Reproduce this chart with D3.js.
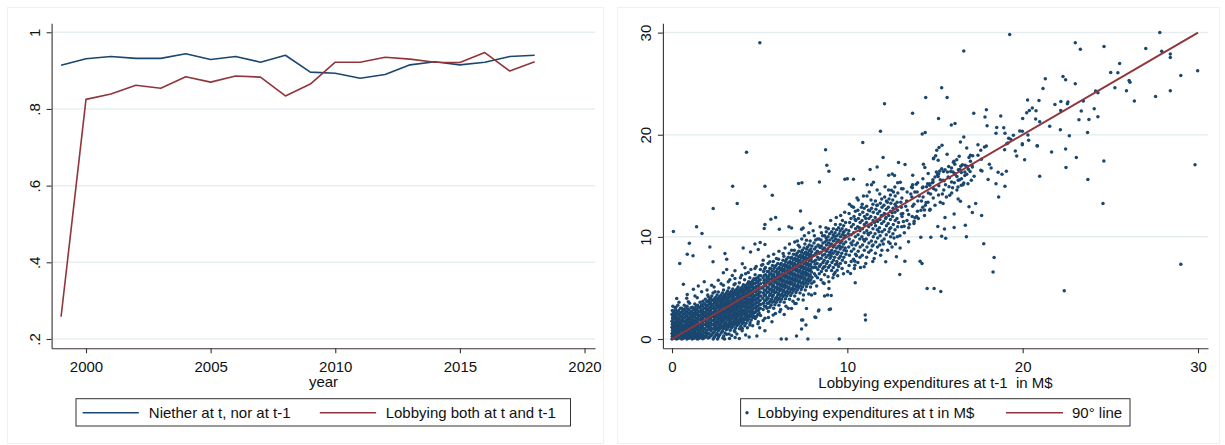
<!DOCTYPE html>
<html><head><meta charset="utf-8">
<script src="https://cdn.jsdelivr.net/npm/d3@7"></script>
<style>
body{margin:0;background:#fff}
svg{display:block}
text{font-family:"Liberation Sans",Arial,sans-serif;fill:#111}
</style>
</head><body>
<svg id="chart" width="1225" height="445"></svg>
<script>
// ---------- data ----------
const years = [1999,2000,2001,2002,2003,2004,2005,2006,2007,2008,2009,2010,2011,2012,2013,2014,2015,2016,2017,2018];
const neitherShare = [0.914,0.931,0.937,0.932,0.932,0.944,0.929,0.937,0.922,0.940,0.896,0.893,0.880,0.890,0.915,0.923,0.915,0.922,0.937,0.940];
const bothShare = [0.258,0.825,0.839,0.862,0.854,0.884,0.870,0.886,0.883,0.834,0.865,0.922,0.922,0.935,0.930,0.922,0.921,0.947,0.899,0.923];
const leftYTicks = [0.2,0.4,0.6,0.8,1];
const leftYLabels = [".2",".4",".6",".8","1"];
const leftXTicks = [2000,2005,2010,2015,2020];
const rightTicks = [0,10,20,30];
const lineLegend = ["Niether at t, nor at t-1","Lobbying both at t and t-1"];
const scatterLegend = ["Lobbying expenditures at t in M$","90\u00b0 line"];
const leftXTitle = "year";
const rightXTitle = "Lobbying expenditures at t-1  in M$";
const refLine = [[0,0],[30,30]];
// [expenditure at t-1, expenditure at t] in M$ : main cloud and outliers
const spendPairs = [
[0,0],[0.02,0.28],[0,0.55],[0.03,0.85],[0,1.15],[0.02,1.45],[0,1.75],[0.03,2.05],[0,2.4],[0.02,2.8],[0.05,3.2],
[0.12,0.08],[0.1,0.42],[0.15,0.72],[0.11,1.02],[0.14,1.32],[0.1,1.62],[0.16,1.95],[0.12,2.3],[0.1,2.65],
[0.26,0],[0.24,0.3],[0.28,0.62],[0.25,0.92],[0.27,1.22],[0.23,1.52],[0.28,1.85],[0.25,2.2],[0.27,2.6],[0.22,3.1],
[0.4,0.1],[0.42,0.4],[0.38,0.7],[0.41,1.0],[0.39,1.32],[0.43,1.62],[0.4,1.98],[0.42,2.38],[0.38,2.8],[0.4,3.6],
[0.55,0],[0.53,0.32],[0.57,0.6],[0.54,0.92],[0.56,1.2],[0.52,1.5],[0.57,1.82],[0.55,2.2],[0.53,2.62],[0.56,3.0],
[0.7,0.12],[0.72,0.42],[0.68,0.7],[0.71,1.02],[0.69,1.3],[0.73,1.68],[0.7,2.08],[0.72,2.5],[0.68,2.9],[0.7,3.3],
[0.85,0],[0.84,0.3],[0.87,0.6],[0.83,0.9],[0.86,1.22],[0.84,1.52],[0.88,1.9],[0.85,2.3],[0.83,2.72],[0.86,3.2],[0.84,4.0],
[1.0,0.1],[1.02,0.4],[0.98,0.7],[1.01,1.0],[0.99,1.32],[1.03,1.62],[1.0,2.0],[1.02,2.42],[0.98,2.82],[1.0,3.5],
[1.15,0],[1.13,0.3],[1.17,0.6],[1.14,0.92],[1.16,1.22],[1.12,1.52],[1.17,1.9],[1.15,2.3],[1.13,2.7],[1.16,3.1],
[1.3,0.1],[1.32,0.4],[1.28,0.72],[1.31,1.02],[1.29,1.4],[1.33,1.8],[1.3,2.2],[1.32,2.6],[1.28,3.0],[1.3,3.42],[1.31,4.2],
[1.45,0],[1.44,0.32],[1.47,0.62],[1.43,1.0],[1.46,1.3],[1.44,1.7],[1.48,2.1],[1.45,2.5],[1.43,2.9],[1.46,3.3],
[1.6,0.12],[1.62,0.5],[1.58,0.8],[1.61,1.12],[1.59,1.5],[1.63,1.9],[1.6,2.3],[1.62,2.7],[1.58,3.1],[1.6,3.6],
[1.75,0.02],[1.74,0.4],[1.77,0.8],[1.73,1.2],[1.76,1.6],[1.74,2.0],[1.78,2.4],[1.75,2.8],[1.73,3.2],[1.76,3.7],
[1.9,0.2],[1.92,0.6],[1.88,1.0],[1.91,1.4],[1.89,1.8],[1.93,2.2],[1.9,2.6],[1.92,3.0],[1.88,3.4],[1.9,3.9],
[2.05,0.1],[2.04,0.5],[2.07,0.9],[2.03,1.3],[2.06,1.7],[2.04,2.1],[2.08,2.5],[2.05,2.9],[2.03,3.3],[2.06,3.7],[2.04,4.3],
[2.2,0.3],[2.22,0.8],[2.18,1.2],[2.21,1.6],[2.19,2.0],[2.23,2.4],[2.2,2.8],[2.22,3.2],[2.18,3.6],[2.2,4.0],
[2.35,0],[2.34,0.6],[2.37,1.0],[2.33,1.4],[2.36,1.8],[2.34,2.2],[2.38,2.6],[2.35,3.0],[2.33,3.4],[2.36,3.8],[2.34,4.5],
[2.5,0.4],[2.52,0.9],[2.48,1.3],[2.51,1.7],[2.49,2.1],[2.53,2.5],[2.5,2.9],[2.52,3.3],[2.48,3.7],[2.5,4.1],
[2.65,0.2],[2.64,0.8],[2.67,1.2],[2.63,1.6],[2.66,2.0],[2.64,2.4],[2.68,2.8],[2.65,3.2],[2.63,3.6],[2.66,4.0],[2.64,4.6],
[2.8,0.6],[2.82,1.1],[2.78,1.5],[2.81,1.9],[2.79,2.3],[2.83,2.7],[2.8,3.1],[2.82,3.5],[2.78,3.9],[2.8,4.3],
[2.95,0.3],[2.94,1.0],[2.97,1.4],[2.93,1.8],[2.96,2.2],[2.94,2.6],[2.98,3.0],[2.95,3.4],[2.93,3.8],[2.96,4.2],[2.94,4.8],
[3.1,0.9],[3.12,1.3],[3.08,1.7],[3.11,2.1],[3.09,2.5],[3.13,2.9],[3.1,3.3],[3.12,3.7],[3.08,4.1],[3.1,4.5],
[3.25,0.5],[3.24,1.2],[3.27,1.6],[3.23,2.0],[3.26,2.4],[3.24,2.8],[3.28,3.2],[3.25,3.6],[3.23,4.0],[3.26,4.4],[3.24,5.0],
[3.4,1.1],[3.42,1.5],[3.38,1.9],[3.41,2.3],[3.39,2.7],[3.43,3.1],[3.4,3.5],[3.42,3.9],[3.38,4.3],[3.4,4.7],
[3.55,0.8],[3.54,1.4],[3.57,1.8],[3.53,2.2],[3.56,2.6],[3.54,3.0],[3.58,3.4],[3.55,3.8],[3.53,4.2],[3.56,4.6],[3.54,5.3],
[3.7,1.3],[3.72,1.7],[3.68,2.1],[3.71,2.5],[3.69,2.9],[3.73,3.3],[3.7,3.7],[3.72,4.1],[3.68,4.5],[3.7,4.9],
[3.85,1.0],[3.84,1.6],[3.87,2.0],[3.83,2.4],[3.86,2.8],[3.84,3.2],[3.88,3.6],[3.85,4.0],[3.83,4.4],[3.86,4.8],[3.84,5.5],
[4.0,1.5],[4.02,1.9],[3.98,2.3],[4.01,2.7],[3.99,3.1],[4.03,3.5],[4.0,3.9],[4.02,4.3],[3.98,4.7],[4.0,5.1],
[4.15,1.3],[4.14,1.9],[4.17,2.3],[4.13,2.7],[4.16,3.1],[4.14,3.5],[4.18,3.9],[4.15,4.3],[4.13,4.7],[4.16,5.1],[4.14,5.8],
[4.3,1.8],[4.32,2.2],[4.28,2.6],[4.31,3.0],[4.29,3.4],[4.33,3.8],[4.3,4.2],[4.32,4.6],[4.28,5.0],[4.3,5.4],
[4.45,1.6],[4.44,2.2],[4.47,2.6],[4.43,3.0],[4.46,3.4],[4.44,3.8],[4.48,4.2],[4.45,4.6],[4.43,5.0],[4.46,5.4],[4.44,6.0],
[4.6,2.1],[4.62,2.5],[4.58,2.9],[4.61,3.3],[4.59,3.7],[4.63,4.1],[4.6,4.5],[4.62,4.9],[4.58,5.3],[4.6,5.7],
[4.75,2.0],[4.74,2.6],[4.77,3.0],[4.73,3.4],[4.76,3.8],[4.74,4.2],[4.78,4.6],[4.75,5.0],[4.73,5.4],[4.76,5.8],[4.74,6.3],
[4.9,2.4],[4.92,2.8],[4.88,3.2],[4.91,3.6],[4.89,4.0],[4.93,4.4],[4.9,4.8],[4.92,5.2],[4.88,5.6],[4.9,6.0],
[5.05,2.3],[5.04,3.0],[5.07,3.4],[5.03,3.8],[5.06,4.2],[5.04,4.6],[5.08,5.0],[5.05,5.4],[5.03,5.8],[5.06,6.2],[5.04,6.8],
[5.2,2.9],[5.22,3.5],[5.18,4.0],[5.21,4.5],[5.19,5.0],[5.23,5.5],[5.2,6.0],[5.22,6.6],[5.18,7.3],
[5.35,3.2],[5.37,3.8],[5.33,4.3],[5.36,4.8],[5.34,5.3],[5.38,5.8],[5.35,6.3],[5.33,7.0],
[5.5,2.7],[5.52,3.5],[5.48,4.0],[5.51,4.6],[5.49,5.1],[5.53,5.6],[5.5,6.1],[5.52,6.6],[5.48,7.4],
[5.65,3.3],[5.67,3.9],[5.63,4.4],[5.66,4.9],[5.64,5.4],[5.68,5.9],[5.65,6.4],[5.63,6.9],
[5.8,3.0],[5.82,3.7],[5.78,4.3],[5.81,4.8],[5.79,5.3],[5.83,5.8],[5.8,6.3],[5.82,6.9],[5.78,7.6],
[5.95,3.6],[5.97,4.1],[5.93,4.6],[5.96,5.1],[5.94,5.6],[5.98,6.1],[5.95,6.6],[5.93,7.2],
[6.1,3.3],[6.12,4.0],[6.08,4.5],[6.11,5.0],[6.09,5.5],[6.13,6.0],[6.1,6.5],[6.12,7.0],[6.08,7.8],
[6.25,3.9],[6.27,4.4],[6.23,4.9],[6.26,5.4],[6.24,5.9],[6.28,6.4],[6.25,6.9],[6.23,7.4],
[6.4,3.6],[6.42,4.3],[6.38,4.8],[6.41,5.3],[6.39,5.8],[6.43,6.3],[6.4,6.8],[6.42,7.3],[6.38,8.1],
[6.55,4.2],[6.57,4.7],[6.53,5.2],[6.56,5.7],[6.54,6.2],[6.58,6.7],[6.55,7.2],[6.53,7.8],
[6.7,3.9],[6.72,4.6],[6.68,5.1],[6.71,5.6],[6.69,6.1],[6.73,6.6],[6.7,7.1],[6.72,7.6],[6.68,8.4],
[6.85,4.5],[6.87,5.0],[6.83,5.5],[6.86,6.0],[6.84,6.5],[6.88,7.0],[6.85,7.5],[6.83,8.0],
[7.0,4.2],[7.02,4.9],[6.98,5.4],[7.01,5.9],[6.99,6.4],[7.03,6.9],[7.0,7.4],[7.02,7.9],[6.98,8.7],
[7.15,4.8],[7.17,5.3],[7.13,5.8],[7.16,6.3],[7.14,6.8],[7.18,7.3],[7.15,7.8],[7.13,8.4],
[7.3,4.5],[7.32,5.2],[7.28,5.7],[7.31,6.2],[7.29,6.7],[7.33,7.2],[7.3,7.7],[7.32,8.2],[7.28,9.0],
[7.45,5.1],[7.47,5.6],[7.43,6.1],[7.46,6.6],[7.44,7.1],[7.48,7.6],[7.45,8.1],[7.43,8.7],
[7.6,4.8],[7.62,5.5],[7.58,6.0],[7.61,6.5],[7.59,7.0],[7.63,7.5],[7.6,8.0],[7.62,8.5],[7.58,9.3],
[7.75,5.4],[7.77,5.9],[7.73,6.4],[7.76,6.9],[7.74,7.4],[7.78,7.9],[7.75,8.4],[7.73,9.0],
[7.9,5.1],[7.92,5.8],[7.88,6.3],[7.91,6.8],[7.89,7.3],[7.93,7.8],[7.9,8.3],[7.92,8.8],[7.88,9.6],
[8.1,5.6],[8.12,6.4],[8.08,7.0],[8.11,7.6],[8.09,8.2],[8.13,8.8],[8.1,9.4],[8.12,10.1],
[8.3,6.0],[8.32,6.8],[8.28,7.4],[8.31,8.0],[8.29,8.6],[8.33,9.2],[8.3,9.8],
[8.5,5.8],[8.52,6.6],[8.48,7.3],[8.51,7.9],[8.49,8.5],[8.53,9.1],[8.5,9.7],[8.52,10.4],
[8.7,6.3],[8.72,7.1],[8.68,7.7],[8.71,8.3],[8.69,8.9],[8.73,9.5],[8.7,10.1],
[8.9,6.1],[8.92,7.0],[8.88,7.6],[8.91,8.2],[8.89,8.8],[8.93,9.4],[8.9,10.0],[8.92,10.8],
[9.1,6.7],[9.12,7.5],[9.08,8.1],[9.11,8.7],[9.09,9.3],[9.13,9.9],[9.1,10.5],
[9.3,6.5],[9.32,7.3],[9.28,8.0],[9.31,8.6],[9.29,9.2],[9.33,9.8],[9.3,10.4],[9.32,11.2],
[9.5,7.1],[9.52,7.9],[9.48,8.5],[9.51,9.1],[9.49,9.7],[9.53,10.3],[9.5,10.9],
[9.7,6.9],[9.72,7.7],[9.68,8.4],[9.71,9.0],[9.69,9.6],[9.73,10.2],[9.7,10.8],[9.72,11.6],
[9.9,7.5],[9.92,8.3],[9.88,8.9],[9.91,9.5],[9.89,10.1],[9.93,10.7],[9.9,11.4],
[10.1,7.2],[10.12,8.2],[10.08,9.0],[10.11,9.8],[10.09,10.6],[10.13,11.4],[10.1,12.3],[10.12,13.2],
[10.35,7.8],[10.37,8.8],[10.33,9.6],[10.36,10.4],[10.34,11.2],[10.38,12.0],[10.35,12.9],
[10.6,7.5],[10.62,8.6],[10.58,9.4],[10.61,10.2],[10.59,11.0],[10.63,11.8],[10.6,12.6],[10.62,13.6],
[10.85,8.2],[10.87,9.2],[10.83,10.0],[10.86,10.8],[10.84,11.6],[10.88,12.4],[10.85,13.2],
[11.1,8.0],[11.12,9.0],[11.08,9.8],[11.11,10.6],[11.09,11.4],[11.13,12.2],[11.1,13.0],[11.12,14.0],
[11.35,8.7],[11.37,9.6],[11.33,10.4],[11.36,11.2],[11.34,12.0],[11.38,12.8],[11.35,13.6],
[11.6,8.4],[11.62,9.5],[11.58,10.3],[11.61,11.1],[11.59,11.9],[11.63,12.7],[11.6,13.5],
[11.85,9.2],[11.87,10.1],[11.83,10.9],[11.86,11.7],[11.84,12.5],[11.88,13.3],[11.85,14.2],
[12.1,9.8],[12.12,10.7],[12.08,11.5],[12.11,12.3],[12.09,13.1],[12.13,13.9],
[12.35,9.5],[12.37,10.5],[12.33,11.3],[12.36,12.1],[12.34,12.9],[12.38,13.7],[12.35,14.6],
[12.6,10.3],[12.62,11.2],[12.58,12.0],[12.61,12.8],[12.59,13.6],[12.63,14.4],
[12.85,10.0],[12.87,11.0],[12.83,11.8],[12.86,12.6],[12.84,13.4],[12.88,14.3],
[13.1,11.0],[13.12,12.0],[13.08,12.9],[13.11,13.8],[13.09,14.7],
[13.4,11.6],[13.42,12.6],[13.38,13.5],[13.41,14.4],
[13.7,12.0],[13.72,13.0],[13.68,13.9],[13.71,14.8],
[14.0,12.5],[14.02,13.5],[13.98,14.4],[14.01,15.3],
[14.3,12.9],[14.32,13.9],[14.28,14.8],[14.31,15.7],
[14.6,13.4],[14.62,14.3],[14.58,15.2],[14.61,16.2],
[14.9,13.8],[14.92,14.7],[14.88,15.6],
[15.2,14.1],[15.22,15.0],[15.18,15.9],
[15.5,14.6],[15.52,15.5],[15.48,16.4],
[15.8,14.9],[15.82,15.8],[15.78,16.9],
[16.1,15.3],[16.12,16.2],[16.08,17.4],
[16.4,15.6],[16.42,16.6],[16.38,17.9],
[16.7,16.0],[16.72,17.0],[17.0,16.4],[17.02,17.4],
[14.91,17.66],[15.04,17.95],[15.18,17.5],[15.08,16.35],[15.21,16.19],[15.0,15.87],[15.14,16.09],[15.27,16.45],[15.38,16.68],[15.57,16.58],
[15.71,16.35],[15.94,16.75],[16.05,17.3],[16.13,17.1],[16.24,17.56],[16.33,16.58],[16.03,16.35],[16.14,16.13],[16.47,16.91],[16.56,17.07],
[16.7,16.35],[16.9,16.61],[16.81,16.13],[16.94,17.76],[17.02,17.98],[17.15,17.95],[17.13,16.84],[17.23,15.93],[16.32,15.54],[16.51,15.7],
[16.64,15.28],[15.75,15.87],[15.46,15.54],[15.94,15.38],[14.7,15.21],[14.89,15.38],[16.88,15.21],[17.07,15.54],
[12.52,14.56],[12.71,14.89],[13.18,14.72],[13.66,14.89],[13.85,14.4],[14.32,14.89],[14.7,15.05],[16.31,14.89],[16.5,15.05],
[16.64,28.2],[15.38,24.6],[15.69,23.65],[14.47,23.65],[12.12,23.04],[13.72,22.1],[17.21,22.1],[15.2,21.6],[16.14,21.1],[15.93,20.95],
[11.89,20.33],[14.27,20.07],[14.44,20.23],[16.64,19.78],[16.45,19.29],[10.88,19.23],[8.76,18.54],[15.4,18.96],[15.23,18.74],[15.1,18.47],
[14.93,17.72],[16.81,18.7],[12.04,17.76],[8.83,17.0],[8.95,16.42],[11.3,16.59],[11.7,16.84],[12.92,17.27],[13.29,17.08],[12.56,16.16],
[12.69,16.0],[12.36,16.03],[13.73,16.03],[14.34,17.1],[14.42,16.78],[15.69,18.1],[9.86,15.64],[10.0,15.7],[10.35,15.64],[8.41,15.38],
[11.13,15.1],[11.38,15.1],[11.49,15.35],[12.87,15.3],[13.02,15.35],[13.72,15.1],[13.93,15.15],
[19.26,29.81],[23.0,29.0],[23.29,28.38],[24.64,28.64],[25.53,26.98],[25.02,26.1],[25.43,26.06],[25.26,24.6],[22.3,25.7],[22.45,25.38],
[23.0,25.0],[21.29,25.48],[21.16,24.53],[24.29,24.11],[24.16,24.27],[23.46,23.3],[23.34,22.32],[23.21,21.47],[23.78,21.5],[24.08,22.55],
[24.29,21.76],[23.7,20.23],[22.58,23.2],[22.55,23.03],[22.18,23.26],[22.17,22.38],[21.84,22.97],[22.15,20.49],[22.66,19.91],
[20.93,23.36],[20.76,22.35],[20.55,22.61],[20.38,22.38],[20.23,22.15],[20.28,23.39],[20.0,21.6],[20.74,21.54],[20.97,21.28],[21.54,20.82],
[17.93,22.45],[17.85,21.73],[17.97,20.88],[18.75,21.83],[18.52,20.72],[18.92,20.69],[18.48,20.14],[18.99,20.14],[19.83,20.36],[19.98,20.33],
[19.2,19.65],[19.47,19.94],[19.32,19.55],[19.16,19.19],[19.09,19.12],[19.98,19.12],[19.98,19.03],[20.3,19.97],[20.34,19.45],[20.82,18.93],
[17.45,19.03],[17.82,18.8],[17.93,18.9],[17.61,18.47],[17.45,17.98],[17.64,17.59],[18.1,17.1],[18.2,16.75],[17.61,16.52],[17.68,16.45],
[18.03,15.61],[18.48,15.21],[18.6,16.32],[18.82,16.13],[19.07,16.42],[18.97,18.54],[19.58,18.41],[19.66,17.92],[20.11,17.56],[20.84,18.9],
[21.65,18.31],[22.45,18.6],[23.06,17.76],[22.47,16.78],[20.97,15.93],[23.72,15.61],[24.63,17.43],
[25.92,24.3],[26.07,25.3],[26.12,25.15],[26.37,23.3],[27.02,28.44],[27.58,23.75],[27.82,30.0],[27.93,28.18],[28.42,27.9],[28.42,27.57],
[28.42,24.3],[29.02,25.8],[29.98,26.26],[29.83,17.07],[29.02,7.33],
[5.01,29.0],[4.25,18.28],[7.22,15.22],[7.41,15.31],
[18.99,14.95],[18.63,13.91],[17.32,13.26],[17.66,12.08],[24.58,13.26],[17.78,9.32],[18.37,7.98],[18.31,6.55],[22.37,4.72],
[3.46,14.95],[5.3,14.95],[5.72,14.07],[3.72,13.26],[2.35,12.77],[7.33,12.54],[5.64,11.73],[5.91,11.89],[5.3,11.21],[5.26,10.81],
[0.08,10.52],[1.4,10.98],[1.71,10.33],[6.12,10.75],[6.67,10.98],[6.82,10.88],[7.88,11.34],[7.48,10.88],[7.39,10.75],[0.99,9.38],
[0.87,8.3],[1.2,8.14],[2.16,9.02],[0.44,7.39],[2.34,7.56],[3.02,8.37],[3.12,7.82],[4.01,7.36],[4.16,6.97],[3.59,6.68],
[3.12,6.81],[4.73,9.31],[5.03,9.45],[5.3,9.25],[4.92,8.76],[4.06,8.92],[4.48,8.53],[3.44,6.22],[2.93,6.48],
[0.27,3.97],[0.17,3.09],[0.65,5.37],[0.87,4.36],[1.22,4.88],[1.44,4.04],[1.84,5.6],[2.26,5.27],[2.64,5.76],[2.93,5.27],
[0.93,3.65],[1.69,4.62],[2.07,4.13],[2.45,4.62],[3.21,5.6],[3.59,5.93],[3.97,6.25],[4.35,6.51],[4.73,6.9],[5.11,7.23],
[5.58,7.56],[5.96,7.88],[6.34,8.37],[6.82,8.7],[7.2,9.18],[7.67,9.67],
[2.07,0.55],[2.64,0.33],[3.12,0.46],[3.59,0.72],[4.01,1.04],[4.44,1.37],[4.92,1.69],[5.3,2.02],[5.77,2.35],[6.15,2.67],
[6.63,3.0],[7.01,3.48],[7.48,3.81],[7.96,4.3],
[3.28,0.05],[3.84,0.05],[4.4,0.2],[4.84,0.3],[5.3,0.8],[6.23,0],[6.52,0],[7.1,0.3],[7.46,1.86],[7.64,1.37],
[7.75,0],[9.54,0],[8.2,2.1],[8.35,2.75],[8.97,2.88],[9.08,4.25],[8.7,4.2],[7.39,0.97],[7.39,1.85],[6.82,2.99],
[7.08,3.48],[7.67,2.99],
[11.02,2.34],[11.04,1.85],[9.04,2.93],[8.38,2.83],[8.15,2.15],[8.87,4.3],[8.95,4.95],[8.68,5.44],[8.15,4.46],[10.45,5.5],
[10.18,6.42],[9.23,6.32],[9.42,6.74],[12.99,6.32],[14.55,4.95],[14.95,4.95],[15.33,4.66],[14.15,7.62],[14.26,7.39],[12.8,8.05],
[13.28,7.62],[12.19,7.56],[11.53,7.88],[10.96,7.07],[10.43,7.23],[10.43,7.62],[13.01,8.92],[13.49,9.51],[12.44,9.35],[11.97,8.7],
[14.19,9.97],[14.76,9.97],[15.38,10.07],[15.61,9.87],[16.79,10.0],[15.16,11.01],[15.54,10.78],[16.73,11.14],[16.09,10.91],
[15.57,11.89],[16.09,12.25],[16.45,13.49],[16.94,12.96],[17.13,12.38],[13.86,11.86],[13.81,11.53],[13.54,11.24],[13.24,11.04],
[13.16,12.28],[13.07,12.25],[14.4,12.64],[14.72,12.7],[14.49,13.36],[14.23,13.52],[15.46,13.26],[15.84,14.07],[16.32,13.71]
];
// extra points read from the solid part of the cloud (overlapping marks)
const spendPairsDense = [
[0.06,0.15],[0.06,0.45],[0.07,0.75],[0.05,1.05],[0.06,1.35],[0.07,1.65],[0.05,1.95],[0.06,2.25],[0.07,2.55],
[0.19,0.18],[0.18,0.5],[0.2,0.8],[0.19,1.1],[0.18,1.4],[0.2,1.7],[0.19,2.05],[0.18,2.4],[0.2,2.85],
[0.33,0.05],[0.32,0.22],[0.34,0.52],[0.33,0.82],[0.32,1.12],[0.34,1.42],[0.33,1.72],[0.32,2.08],[0.34,2.45],[0.33,3.3],
[0.47,0.2],[0.46,0.55],[0.48,0.85],[0.47,1.15],[0.46,1.45],[0.48,1.78],[0.47,2.15],[0.46,2.55],[0.48,3.0],
[0.62,0.05],[0.61,0.22],[0.63,0.5],[0.62,0.8],[0.61,1.08],[0.63,1.38],[0.62,1.68],[0.61,2.0],[0.63,2.4],[0.62,2.8],
[0.77,0.2],[0.76,0.55],[0.78,0.85],[0.77,1.15],[0.76,1.45],[0.78,1.8],[0.77,2.2],[0.76,2.6],[0.78,3.0],
[0.92,0.08],[0.91,0.25],[0.93,0.52],[0.92,0.8],[0.91,1.08],[0.93,1.4],[0.92,1.72],[0.91,2.1],[0.93,2.5],[0.92,2.95],
[1.07,0.2],[1.06,0.55],[1.08,0.85],[1.07,1.15],[1.06,1.48],[1.08,1.82],[1.07,2.2],[1.06,2.6],[1.08,3.05],
[1.22,0.08],[1.21,0.25],[1.23,0.5],[1.22,0.78],[1.21,1.08],[1.23,1.4],[1.22,1.72],[1.21,2.1],[1.23,2.5],[1.22,2.9],
[1.37,0.2],[1.36,0.55],[1.38,0.88],[1.37,1.2],[1.36,1.6],[1.38,2.0],[1.37,2.4],[1.36,2.8],[1.38,3.2],
[1.52,0.05],[1.51,0.3],[1.53,0.45],[1.52,0.8],[1.51,1.15],[1.53,1.5],[1.52,1.9],[1.51,2.3],[1.53,2.7],[1.52,3.1],
[1.67,0.25],[1.66,0.62],[1.68,0.98],[1.67,1.35],[1.66,1.72],[1.68,2.1],[1.67,2.5],[1.66,2.9],[1.68,3.35],
[1.82,0.1],[1.81,0.3],[1.83,0.6],[1.82,1.0],[1.81,1.4],[1.83,1.8],[1.82,2.2],[1.81,2.6],[1.83,3.0],[1.82,3.45],
[1.97,0.35],[1.96,0.8],[1.98,1.2],[1.97,1.6],[1.96,2.0],[1.98,2.4],[1.97,2.8],[1.96,3.2],[1.98,3.65],
[2.12,0.15],[2.11,0.55],[2.13,1.05],[2.12,1.45],[2.11,1.85],[2.13,2.25],[2.12,2.65],[2.11,3.05],[2.13,3.45],[2.12,3.85],
[2.27,0.45],[2.26,1.0],[2.28,1.4],[2.27,1.8],[2.26,2.2],[2.28,2.6],[2.27,3.0],[2.26,3.4],[2.28,3.8],[2.27,4.2],
[2.42,0.2],[2.41,0.7],[2.43,1.15],[2.42,1.55],[2.41,1.95],[2.43,2.35],[2.42,2.75],[2.41,3.15],[2.43,3.55],[2.42,3.95],
[2.57,0.55],[2.56,1.05],[2.58,1.45],[2.57,1.85],[2.56,2.25],[2.58,2.65],[2.57,3.05],[2.56,3.45],[2.58,3.85],[2.57,4.3],
[2.72,0.4],[2.71,0.95],[2.73,1.35],[2.72,1.75],[2.71,2.15],[2.73,2.55],[2.72,2.95],[2.71,3.35],[2.73,3.75],[2.72,4.15],
[2.87,0.75],[2.86,1.25],[2.88,1.65],[2.87,2.05],[2.86,2.45],[2.88,2.85],[2.87,3.25],[2.86,3.65],[2.88,4.05],[2.87,4.5],
[3.02,0.6],[3.01,1.15],[3.03,1.55],[3.02,1.95],[3.01,2.35],[3.03,2.75],[3.02,3.15],[3.01,3.55],[3.03,3.95],[3.02,4.35],
[3.17,1.05],[3.16,1.45],[3.18,1.85],[3.17,2.25],[3.16,2.65],[3.18,3.05],[3.17,3.45],[3.16,3.85],[3.18,4.25],[3.17,4.7],
[3.32,0.85],[3.31,1.35],[3.33,1.75],[3.32,2.15],[3.31,2.55],[3.33,2.95],[3.32,3.35],[3.31,3.75],[3.33,4.15],[3.32,4.55],
[3.47,1.25],[3.46,1.65],[3.48,2.05],[3.47,2.45],[3.46,2.85],[3.48,3.25],[3.47,3.65],[3.46,4.05],[3.48,4.45],[3.47,4.9],
[3.62,1.05],[3.61,1.55],[3.63,1.95],[3.62,2.35],[3.61,2.75],[3.63,3.15],[3.62,3.55],[3.61,3.95],[3.63,4.35],[3.62,4.75],
[3.77,1.45],[3.76,1.85],[3.78,2.25],[3.77,2.65],[3.76,3.05],[3.78,3.45],[3.77,3.85],[3.76,4.25],[3.78,4.65],[3.77,5.1],
[3.92,1.25],[3.91,1.75],[3.93,2.15],[3.92,2.55],[3.91,2.95],[3.93,3.35],[3.92,3.75],[3.91,4.15],[3.93,4.55],[3.92,4.95],
[4.07,1.65],[4.06,2.05],[4.08,2.45],[4.07,2.85],[4.06,3.25],[4.08,3.65],[4.07,4.05],[4.06,4.45],[4.08,4.85],[4.07,5.3],
[4.22,1.55],[4.21,2.05],[4.23,2.45],[4.22,2.85],[4.21,3.25],[4.23,3.65],[4.22,4.05],[4.21,4.45],[4.23,4.85],[4.22,5.25],
[4.37,1.95],[4.36,2.35],[4.38,2.75],[4.37,3.15],[4.36,3.55],[4.38,3.95],[4.37,4.35],[4.36,4.75],[4.38,5.15],[4.37,5.6],
[4.52,1.85],[4.51,2.35],[4.53,2.75],[4.52,3.15],[4.51,3.55],[4.53,3.95],[4.52,4.35],[4.51,4.75],[4.53,5.15],[4.52,5.55],
[4.67,2.25],[4.66,2.65],[4.68,3.05],[4.67,3.45],[4.66,3.85],[4.68,4.25],[4.67,4.65],[4.66,5.05],[4.68,5.45],[4.67,5.9],
[4.82,2.2],[4.81,2.75],[4.83,3.15],[4.82,3.55],[4.81,3.95],[4.83,4.35],[4.82,4.75],[4.81,5.15],[4.83,5.55],[4.82,5.95],
[4.97,2.55],[4.96,2.95],[4.98,3.35],[4.97,3.75],[4.96,4.15],[4.98,4.55],[4.97,4.95],[4.96,5.35],[4.98,5.75],[4.97,6.2],
[5.27,3.2],[5.28,3.75],[5.26,4.25],[5.27,4.75],[5.28,5.25],[5.26,5.75],[5.27,6.25],[5.28,6.85],
[5.42,3.0],[5.43,3.5],[5.41,4.05],[5.42,4.55],[5.43,5.05],[5.41,5.55],[5.42,6.05],[5.43,6.6],
[5.57,3.1],[5.58,3.7],[5.56,4.25],[5.57,4.85],[5.58,5.35],[5.56,5.85],[5.57,6.35],[5.58,6.9],
[5.72,3.6],[5.73,4.15],[5.71,4.65],[5.72,5.15],[5.73,5.65],[5.71,6.15],[5.72,6.65],[5.73,7.2],
[5.87,3.35],[5.88,3.95],[5.86,4.55],[5.87,5.05],[5.88,5.55],[5.86,6.05],[5.87,6.55],[5.88,7.1],
[6.02,3.85],[6.03,4.3],[6.01,4.85],[6.02,5.35],[6.03,5.85],[6.01,6.35],[6.02,6.85],[6.03,7.4],
[6.17,3.65],[6.18,4.25],[6.16,4.75],[6.17,5.25],[6.18,5.75],[6.16,6.25],[6.17,6.75],[6.18,7.3],
[6.32,4.15],[6.33,4.65],[6.31,5.15],[6.32,5.65],[6.33,6.15],[6.31,6.65],[6.32,7.15],[6.33,7.7],
[6.47,3.95],[6.48,4.55],[6.46,5.05],[6.47,5.55],[6.48,6.05],[6.46,6.55],[6.47,7.05],[6.48,7.6],
[6.62,4.45],[6.63,4.95],[6.61,5.45],[6.62,5.95],[6.63,6.45],[6.61,6.95],[6.62,7.45],[6.63,8.0],
[6.77,4.25],[6.78,4.85],[6.76,5.35],[6.77,5.85],[6.78,6.35],[6.76,6.85],[6.77,7.35],[6.78,7.9],
[6.92,4.75],[6.93,5.25],[6.91,5.75],[6.92,6.25],[6.93,6.75],[6.91,7.25],[6.92,7.75],[6.93,8.3],
[7.07,4.55],[7.08,5.15],[7.06,5.65],[7.07,6.15],[7.08,6.65],[7.06,7.15],[7.07,7.65],[7.08,8.2],
[7.22,5.05],[7.23,5.55],[7.21,6.05],[7.22,6.55],[7.23,7.05],[7.21,7.55],[7.22,8.05],[7.23,8.6],
[7.37,4.85],[7.38,5.45],[7.36,5.95],[7.37,6.45],[7.38,6.95],[7.36,7.45],[7.37,7.95],[7.38,8.5],
[7.52,5.35],[7.53,5.85],[7.51,6.35],[7.52,6.85],[7.53,7.35],[7.51,7.85],[7.52,8.35],[7.53,8.9],
[7.67,5.15],[7.68,5.75],[7.66,6.25],[7.67,6.75],[7.68,7.25],[7.66,7.75],[7.67,8.25],[7.68,8.8],
[7.82,5.65],[7.83,6.15],[7.81,6.65],[7.82,7.15],[7.83,7.65],[7.81,8.15],[7.82,8.65],[7.83,9.2],
[7.97,5.45],[7.98,6.05],[7.96,6.55],[7.97,7.05],[7.98,7.55],[7.96,8.05],[7.97,8.55],[7.98,9.1],
[8.2,6.2],[8.21,7.0],[8.19,7.7],[8.2,8.4],[8.21,9.0],[8.19,9.7],
[8.4,6.4],[8.41,7.1],[8.39,7.8],[8.4,8.4],[8.41,9.1],[8.39,9.8],
[8.6,6.9],[8.61,7.5],[8.59,8.2],[8.6,8.8],[8.61,9.4],[8.59,10.1],
[8.8,6.7],[8.81,7.4],[8.79,8.0],[8.8,8.6],[8.81,9.2],[8.79,9.9],[8.8,10.5],
[9.0,7.2],[9.01,7.9],[8.99,8.5],[9.0,9.1],[9.01,9.7],[8.99,10.3],
[9.2,7.0],[9.21,7.7],[9.19,8.4],[9.2,9.0],[9.21,9.6],[9.19,10.2],[9.2,10.8],
[9.4,7.6],[9.41,8.3],[9.39,8.9],[9.4,9.5],[9.41,10.1],[9.39,10.7],
[9.6,7.4],[9.61,8.1],[9.59,8.8],[9.6,9.4],[9.61,10.0],[9.59,10.6],[9.6,11.2],
[9.8,8.0],[9.81,8.7],[9.79,9.3],[9.8,9.9],[9.81,10.5],[9.79,11.1],
[10.22,7.6],[10.23,8.6],[10.21,9.4],[10.22,10.2],[10.23,11.0],[10.21,11.8],
[10.47,8.3],[10.48,9.2],[10.46,10.0],[10.47,10.8],[10.48,11.6],[10.46,12.5],
[10.72,8.0],[10.73,9.0],[10.71,9.8],[10.72,10.6],[10.73,11.4],[10.71,12.2],
[10.97,8.7],[10.98,9.6],[10.96,10.4],[10.97,11.2],[10.98,12.0],[10.96,12.8],
[11.22,8.5],[11.23,9.4],[11.21,10.2],[11.22,11.0],[11.23,11.8],[11.21,12.6],
[11.47,9.2],[11.48,10.0],[11.46,10.8],[11.47,11.6],[11.48,12.4],[11.46,13.2],
[11.72,9.0],[11.73,9.9],[11.71,10.7],[11.72,11.5],[11.73,12.3],[11.71,13.1],
[11.97,9.6],[11.98,10.5],[11.96,11.3],[11.97,12.1],[11.98,12.9],[11.96,13.7],
[12.22,10.2],[12.23,11.1],[12.21,11.9],[12.22,12.7],[12.23,13.5],
[12.47,10.0],[12.48,10.9],[12.46,11.7],[12.47,12.5],[12.48,13.3],[12.46,14.1],
[12.72,10.7],[12.73,11.6],[12.71,12.4],[12.72,13.2],[12.73,14.0]
];
// loose points at the fringe of the cloud
const spendPairsSpread = [
[7.15,9.6],[7.55,10.1],[7.8,4.4],[8.05,10.6],[8.25,5.2],[8.45,11.0],[8.62,5.5],[8.78,10.9],[8.95,5.6],[9.05,11.6],
[9.18,6.0],[9.37,11.9],[9.45,6.2],[9.62,12.1],[9.78,6.4],[9.85,12.4],[10.02,6.6],[10.25,13.0],[10.4,6.9],[10.55,13.8],
[10.75,7.0],[10.92,14.0],[11.05,7.4],[11.25,14.4],[11.45,7.6],[11.7,14.6],[11.9,8.2],[12.15,14.9],[12.3,8.7],[12.55,9.0],
[12.75,9.3],[13.0,10.1],[13.25,10.4],[13.5,10.9],[13.8,11.3],[14.05,11.8],[14.4,12.1],[14.7,12.6],[15.0,13.1],[15.3,13.4],
[15.65,13.9],[15.95,14.3],[16.25,14.6],[16.6,15.1],
[8.16,7.32],[8.44,8.95],[8.66,7.05],[8.83,9.67],[9.04,8.38],[9.26,10.05],[9.42,7.35],[9.58,9.03],[9.77,10.42],[9.95,8.62],
[10.05,10.3],[10.27,9.22],[10.44,11.7],[10.52,8.15],[10.68,10.9],[10.8,12.9],[10.93,9.75],[11.05,11.8],[11.18,10.33],[11.28,12.55],
[11.42,9.1],[11.55,11.4],[11.68,13.1],[11.8,10.5],[11.93,12.05],[12.05,9.3],[12.18,11.8],[12.28,13.4],[12.42,10.8],[12.55,12.35],
[12.66,9.9],[12.78,13.0],[12.92,11.4],[13.05,13.4],[13.2,11.5],[13.33,13.0],[13.5,12.2],[13.62,14.2],[13.8,13.2],[13.95,12.0],
[14.1,14.0],[14.2,12.6],[14.45,13.1],[14.52,14.9],[14.75,14.2],[14.85,15.3],[15.05,14.6],[15.3,15.6],[15.42,14.2],[15.6,15.1],
[15.9,16.4],[16.0,14.8],[16.25,15.9],[16.5,16.3],[16.85,16.9],[17.1,17.0],
[1.5,5.2],[2.0,4.8],[2.4,5.1],[2.8,5.4],[3.3,5.8],[3.6,5.4],[3.9,6.0],[4.2,6.4],[4.5,6.8],[4.8,7.1],
[5.2,7.7],[5.5,8.1],[5.8,8.3],[6.1,8.6],[6.45,8.9],[6.7,9.3],[7.0,9.5],[7.4,9.8],[7.8,10.4],
[2.4,0.2],[2.9,0.1],[3.4,0.35],[3.7,0.5],[4.0,0.8],[4.3,1.1],[4.6,1.3],[4.9,1.5],[5.2,1.8],[5.5,2.1],
[5.9,2.5],[6.2,2.9],[6.5,3.2],[6.9,3.7],[7.2,3.9],[7.5,4.3],[2.6,0.0],[3.0,0.0],[3.6,0.15],[4.2,0.4],
[5.0,1.1],[5.7,1.7],[6.4,2.4]
];

// ---------- drawing ----------
const svg = d3.select("#chart");
const navy = "#1a476f", maroon = "#90353b", gridCol = "#e7eef0", axisCol = "#333";

svg.append("rect").attr("x",7.5).attr("y",7.5).attr("width",596).attr("height",436)
  .attr("fill","none").attr("stroke","#eef1f3");
svg.append("rect").attr("x",617.5).attr("y",7.5).attr("width",602).attr("height",436)
  .attr("fill","none").attr("stroke","#eef1f3");

function styleAxis(g){
  g.selectAll("path.domain").attr("stroke",axisCol).attr("stroke-width",1.1);
  g.selectAll(".tick line").attr("stroke",axisCol).attr("stroke-width",1.1);
  g.selectAll("text").attr("fill","#111").style("font-size","15px")
    .style("font-family",'"Liberation Sans",Arial,sans-serif');
}

// ===== Left panel =====
const lx = d3.scaleLinear().domain([1998.62, 2020.42]).range([51.6, 595]);
const ly = d3.scaleLinear().domain([0.1757, 1.0234]).range([348.3, 23.3]);

svg.append("g").selectAll("line").data(leftYTicks).join("line")
  .attr("x1",lx.range()[0]).attr("x2",lx.range()[1])
  .attr("y1",d=>ly(d)).attr("y2",d=>ly(d))
  .attr("stroke",gridCol).attr("stroke-width",1.5);

const lyAxis = svg.append("g").attr("transform",`translate(${lx.range()[0]},0)`)
  .call(d3.axisLeft(ly).tickValues(leftYTicks).tickFormat((d,i)=>leftYLabels[i]).tickSize(5).tickSizeOuter(0));
styleAxis(lyAxis);
lyAxis.selectAll(".tick text").attr("transform","rotate(-90)").attr("x",0).attr("y",-11.5)
  .attr("dy",0).attr("text-anchor","middle");

const lxAxis = svg.append("g").attr("transform",`translate(0,${ly.range()[0]})`)
  .call(d3.axisBottom(lx).tickValues(leftXTicks).tickFormat(d3.format("d")).tickSize(5).tickSizeOuter(0));
styleAxis(lxAxis);
lxAxis.selectAll(".tick text").attr("y",24.2).attr("dy",0);

svg.append("text").attr("x",323.5).attr("y",387).attr("text-anchor","middle")
  .style("font-size","15px").text(leftXTitle);

const lineGen = d3.line().x(d=>lx(d[0])).y(d=>ly(d[1]));
svg.append("path").datum(years.map((y,i)=>[y,neitherShare[i]]))
  .attr("d",lineGen).attr("fill","none").attr("stroke",navy).attr("stroke-width",1.6).attr("stroke-linejoin","round");
svg.append("path").datum(years.map((y,i)=>[y,bothShare[i]]))
  .attr("d",lineGen).attr("fill","none").attr("stroke",maroon).attr("stroke-width",1.6).attr("stroke-linejoin","round");

// left legend
svg.append("rect").attr("x",76).attr("y",398.7).attr("width",494.5).attr("height",27.3)
  .attr("fill","#fff").attr("stroke",axisCol).attr("stroke-width",1);
[[82.6,138.8,148.8,navy],[319.8,376,385.7,maroon]].forEach((p,i)=>{
  svg.append("line").attr("x1",p[0]).attr("x2",p[1]).attr("y1",412.7).attr("y2",412.7)
    .attr("stroke",p[3]).attr("stroke-width",1.6);
  svg.append("text").attr("x",p[2]).attr("y",418.2).style("font-size","15px").text(lineLegend[i]);
});

// ===== Right panel =====
const rx = d3.scaleLinear().domain([-0.519, 30.57]).range([662.9, 1208]);
const ry = d3.scaleLinear().domain([-0.91, 30.91]).range([348.3, 23.3]);

svg.append("g").selectAll("line").data(rightTicks).join("line")
  .attr("x1",rx.range()[0]).attr("x2",rx.range()[1])
  .attr("y1",d=>ry(d)).attr("y2",d=>ry(d))
  .attr("stroke",gridCol).attr("stroke-width",1.5);

const ryAxis = svg.append("g").attr("transform",`translate(${rx.range()[0]},0)`)
  .call(d3.axisLeft(ry).tickValues(rightTicks).tickFormat(d3.format("d")).tickSize(5).tickSizeOuter(0));
styleAxis(ryAxis);
ryAxis.selectAll(".tick text").attr("transform","rotate(-90)").attr("x",0).attr("y",-11.5)
  .attr("dy",0).attr("text-anchor","middle");

const rxAxis = svg.append("g").attr("transform",`translate(0,${ry.range()[0]})`)
  .call(d3.axisBottom(rx).tickValues(rightTicks).tickFormat(d3.format("d")).tickSize(5).tickSizeOuter(0));
styleAxis(rxAxis);
rxAxis.selectAll(".tick text").attr("y",24.2).attr("dy",0);

svg.append("text").attr("x",935.5).attr("y",387.5).attr("text-anchor","middle")
  .style("font-size","15px").style("white-space","pre").text(rightXTitle);

svg.append("g").selectAll("circle").data(spendPairs.concat(spendPairsDense, spendPairsSpread)).join("circle")
  .attr("cx",d=>rx(d[0])).attr("cy",d=>ry(d[1])).attr("r",1.75).attr("fill",navy);

svg.append("path").datum(refLine)
  .attr("d",d3.line().x(d=>rx(d[0])).y(d=>ry(d[1])))
  .attr("fill","none").attr("stroke",maroon).attr("stroke-width",1.9);

// right legend
svg.append("rect").attr("x",740.6).attr("y",398.7).attr("width",389.4).attr("height",27.3)
  .attr("fill","#fff").attr("stroke",axisCol).attr("stroke-width",1);
svg.append("circle").attr("cx",747).attr("cy",412.7).attr("r",1.7).attr("fill",navy);
svg.append("text").attr("x",757.5).attr("y",418.2).style("font-size","15px").text(scatterLegend[0]);
svg.append("line").attr("x1",1006).attr("x2",1063).attr("y1",412.7).attr("y2",412.7)
  .attr("stroke",maroon).attr("stroke-width",1.6);
svg.append("text").attr("x",1072).attr("y",418.2).style("font-size","15px").text(scatterLegend[1]);
</script>
</body></html>
